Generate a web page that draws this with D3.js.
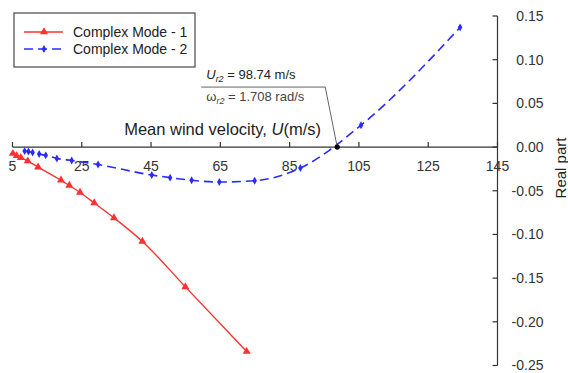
<!DOCTYPE html>
<meta charset="utf-8">
<style>
  body { margin: 0; background: #fff; }
  svg { display: block; font-family: "Liberation Sans", Arial, sans-serif; }
  .axis path, .axis line { stroke: #333; stroke-width: 1.2; }
  .axis text { fill: #333; font-size: 14px; }
</style>
<body>
<svg width="568" height="373"></svg>
<script src="https://d3js.org/d3.v7.min.js"></script>
<script>

// values
var mode1U  = [5.1, 6.2, 7.4, 9.4, 12.4, 19.0, 21.4, 24.5, 28.6, 34.3, 42.5, 54.9, 72.6];
var mode1Re = [-0.0074, -0.010, -0.0122, -0.016, -0.023, -0.038, -0.044, -0.052, -0.064, -0.081, -0.108, -0.160, -0.234];

var mode2U  = [8.5, 9.6, 10.8, 12.7, 14.6, 17.8, 22.1, 29.7, 45.2, 50.5, 56.7, 64.7, 74.9, 88.1, 105.6, 134.2];
var mode2Re = [-0.0046, -0.0051, -0.0063, -0.008, -0.0095, -0.013, -0.0154, -0.020, -0.032, -0.035, -0.038, -0.040, -0.0386, -0.024, 0.025, 0.137];

var seriesNames = ["Complex Mode - 1", "Complex Mode - 2"];
var xTicks = [5, 25, 45, 65, 85, 105, 125, 145];
var yTicks = [0.15, 0.10, 0.05, 0.00, -0.05, -0.10, -0.15, -0.20, -0.25];
var critU = 98.74, critW = 1.708;

var svg = d3.select("svg");

var x = d3.scaleLinear().domain([5, 145]).range([12.5, 497.5]);
var y = d3.scaleLinear().domain([-0.25, 0.15]).range([365.5, 16]);

// x axis through zero, ticks up, labels below
var gx = svg.append("g")
    .attr("class", "axis")
    .attr("transform", "translate(0," + y(0) + ")");
gx.append("line").attr("x1", x(5)).attr("x2", x(145));
gx.selectAll(".tk").data(xTicks).enter().append("line")
    .attr("x1", d => x(d)).attr("x2", d => x(d))
    .attr("y1", 0).attr("y2", -5);
gx.selectAll("text").data(xTicks).enter().append("text")
    .attr("x", d => x(d)).attr("y", 24)
    .attr("text-anchor", "middle")
    .text(d => d);

// y axis on the right, ticks left, labels right
var gy = svg.append("g")
    .attr("class", "axis")
    .attr("transform", "translate(" + x(145) + ",0)");
gy.append("line").attr("y1", y(0.15)).attr("y2", y(-0.25));
gy.selectAll(".tk").data(yTicks).enter().append("line")
    .attr("x1", 0).attr("x2", -5)
    .attr("y1", d => y(d)).attr("y2", d => y(d));
gy.selectAll("text").data(yTicks).enter().append("text")
    .attr("x", 46).attr("y", d => y(d))
    .attr("dy", "0.35em")
    .attr("text-anchor", "end")
    .text(d => d.toFixed(2));

svg.append("text")
    .attr("transform", "translate(566," + 168 + ") rotate(-90)")
    .attr("text-anchor", "middle")
    .attr("fill", "#222")
    .style("font-size", "15px")
    .text("Real part");

svg.append("text")
    .attr("x", 321).attr("y", 135)
    .attr("text-anchor", "end")
    .attr("fill", "#222")
    .style("font-size", "16.5px")
    .html("Mean wind velocity, <tspan font-style='italic'>U</tspan>(m/s)");

// series
var red = "#ff3030", blue = "#2b2bff";
var d1 = mode1U.map((u, i) => [u, mode1Re[i]]);
var d2 = mode2U.map((u, i) => [u, mode2Re[i]]);

svg.append("path")
    .attr("d", d3.line().curve(d3.curveMonotoneX).x(d => x(d[0])).y(d => y(d[1]))(d1))
    .attr("fill", "none").attr("stroke", red).attr("stroke-width", 1.4);
svg.append("path")
    .attr("d", d3.line().curve(d3.curveMonotoneX).x(d => x(d[0])).y(d => y(d[1]))(d2))
    .attr("fill", "none").attr("stroke", blue).attr("stroke-width", 1.6)
    .attr("stroke-dasharray", "9,5");

var tri = d3.symbol().type(d3.symbolTriangle).size(28);
var dia = d3.symbol().type(d3.symbolDiamond).size(18);
svg.selectAll(".m1").data(d1).enter().append("path")
    .attr("d", tri)
    .attr("transform", d => "translate(" + x(d[0]) + "," + y(d[1]) + ")")
    .attr("fill", red);
svg.selectAll(".m2").data(d2).enter().append("path")
    .attr("d", dia)
    .attr("transform", d => "translate(" + x(d[0]) + "," + y(d[1]) + ")")
    .attr("fill", blue);

// critical point annotation
var cx = x(critU), cy = y(0);
svg.append("path")
    .attr("d", "M" + (cx - 136) + "," + (cy - 60) + "H" + (cx - 12) + "L" + cx + "," + cy)
    .attr("fill", "none").attr("stroke", "#666").attr("stroke-width", 1);
svg.append("circle").attr("cx", cx).attr("cy", cy).attr("r", 2.6).attr("fill", "#000");

var t1 = svg.append("text").attr("x", cx - 131).attr("y", cy - 68)
    .attr("fill", "#222").style("font-size", "13px");
t1.append("tspan").attr("font-style", "italic").text("U");
t1.append("tspan").attr("font-style", "italic").attr("font-size", "9px").attr("dy", 3).text("r2");
t1.append("tspan").attr("dy", -3).text(" = " + critU + " m/s");

var t2 = svg.append("text").attr("x", cx - 131).attr("y", cy - 46)
    .attr("fill", "#444").style("font-size", "13px");
t2.append("tspan").text("\u03c9");
t2.append("tspan").attr("font-style", "italic").attr("font-size", "9px").attr("dy", 3).text("r2");
t2.append("tspan").attr("dy", -3).text(" = " + critW + " rad/s");

// legend
var lg = svg.append("g").attr("transform", "translate(14,13)");
lg.append("rect").attr("width", 181).attr("height", 54)
    .attr("fill", "#fff").attr("stroke", "#555").attr("stroke-width", 1.3);
[[red, null, tri], [blue, "9,5", dia]].forEach(function (s, i) {
  var row = lg.append("g").attr("transform", "translate(0," + (19 + i * 17) + ")");
  row.append("line").attr("x1", 10).attr("x2", 49)
      .attr("stroke", s[0]).attr("stroke-width", 1.4)
      .attr("stroke-dasharray", s[1]);
  row.append("path").attr("d", s[2]).attr("transform", "translate(30,0)").attr("fill", s[0]);
  row.append("text").attr("x", 59).attr("dy", "0.35em")
      .attr("fill", "#222").style("font-size", "14px")
      .text(seriesNames[i]);
});
</script>
</body>
